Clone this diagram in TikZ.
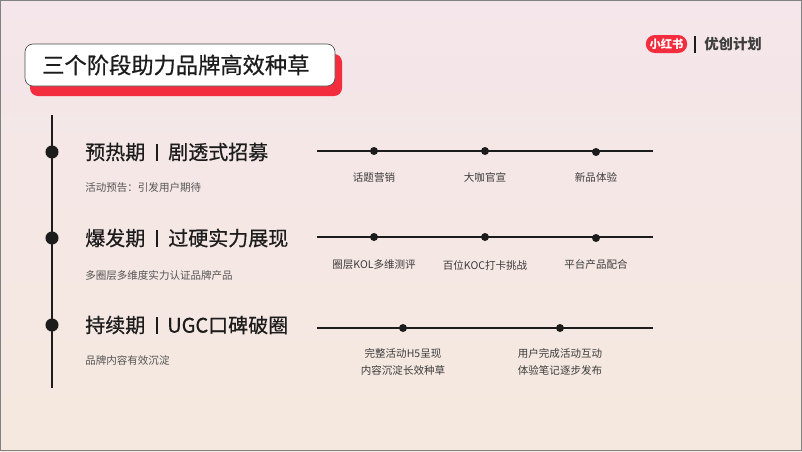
\documentclass[tikz,border=0pt]{standalone}
\usepackage{fontspec}
\setmainfont{Noto Sans CJK SC}
\newfontfamily\cjk{Noto Sans CJK SC}
\newfontfamily\cjkmed[FakeBold=0.6]{Noto Sans CJK SC}
\usetikzlibrary{shapes.misc}
\definecolor{bgtop}{RGB}{244,230,234}
\definecolor{bgbot}{RGB}{245,232,222}
\definecolor{redx}{RGB}{243,44,62}
\definecolor{ink}{RGB}{28,28,28}
\definecolor{subgray}{RGB}{85,85,85}
\definecolor{labgray}{RGB}{60,60,60}
\definecolor{frame}{RGB}{130,130,130}
\tikzset{
  heading/.style={anchor=west, inner sep=0pt, font=\cjkmed\fontsize{15}{18}\selectfont, text=ink},
  subline/.style={anchor=west, inner sep=0pt, font=\cjk\fontsize{7.9}{10}\selectfont, text=subgray},
  lab/.style={anchor=center, inner sep=0pt, font=\cjk\fontsize{7.9}{10}\selectfont, text=labgray, align=center},
  bigdot/.style={circle, fill=ink, inner sep=0pt, minimum size=9.8pt},
  smalldot/.style={circle, fill=ink, inner sep=0pt, minimum size=6pt},
  tline/.style={draw=ink, line width=1.5pt},
  hline/.style={draw=ink, line width=1.1pt},
  sepbar/.style={draw=ink, line width=0.9pt}
}
\begin{document}
\begin{tikzpicture}[x=0.75pt,y=-0.75pt]
\useasboundingbox (0,0) rectangle (802,451);
% background
\shade[top color=bgtop, bottom color=bgbot] (0,0) rectangle (802,451);
\draw[frame, line width=0.8pt] (0.5,0.5) rectangle (801.5,450.5);
% title box
\fill[redx, rounded corners=6pt] (30,54) rectangle (342,96);
\draw[fill=white, draw=black!70, line width=0.5pt, rounded corners=6pt] (25,44) rectangle (335,86);
\node[anchor=west, inner sep=0pt, font=\cjkmed\fontsize{16.7}{20}\selectfont, text=ink] (title) at (42,65) {三个阶段助力品牌高效种草};
% logo
\node[rounded rectangle, fill=redx, text=white, inner sep=0pt, minimum width=31pt, minimum height=13.5pt, font=\cjk\bfseries\fontsize{8.5}{9}\selectfont] (logo) at (666.5,44) {小红书};
\coordinate (lbt) at (695,36);
\coordinate (lbb) at (695,53);
\draw[draw=ink, line width=1.5pt] (lbt) -- (lbb);
\node[anchor=west, inner sep=0pt, font=\cjk\bfseries\fontsize{10.8}{12}\selectfont, text=ink!85] (brand) at (704,44) {优创计划};
% vertical timeline
\coordinate (vtop) at (52,115);
\coordinate (vbot) at (52,388);
\draw[tline] (vtop) -- (vbot);
\node[bigdot] (d1) at (52,152) {};
\node[bigdot] (d2) at (52,238) {};
\node[bigdot] (d3) at (52,325) {};
% stage 1
\node[heading] (s1a) at (85,152) {预热期};
\coordinate (b1t) at (157,144);
\coordinate (b1b) at (157,161);
\draw[sepbar] (b1t) -- (b1b);
\node[heading] (s1b) at (168,152) {剧透式招募};
\node[subline] (s1s) at (85,188) {活动预告：引发用户期待};
% stage 2
\node[heading] (s2a) at (85,238) {爆发期};
\coordinate (b2t) at (157,230);
\coordinate (b2b) at (157,247);
\draw[sepbar] (b2t) -- (b2b);
\node[heading] (s2b) at (168,238) {过硬实力展现};
\node[subline] (s2s) at (85,275) {多圈层多维度实力认证品牌产品};
% stage 3
\node[heading] (s3a) at (85,325) {持续期};
\coordinate (b3t) at (157,317);
\coordinate (b3b) at (157,334);
\draw[sepbar] (b3t) -- (b3b);
\node[heading] (s3b) at (167,325) {UGC口碑破圈};
\node[subline] (s3s) at (85,360) {品牌内容有效沉淀};
% row 1
\coordinate (h1s) at (317,151);
\coordinate (h1e) at (653,151);
\draw[hline] (h1s) -- (h1e);
\node[smalldot] (r1a) at (374,151) {};
\node[smalldot] (r1b) at (485,151) {};
\node[smalldot] (r1c) at (596,152) {};
\node[lab] (l1a) at (374,177) {话题营销};
\node[lab] (l1b) at (485,177) {大咖官宣};
\node[lab] (l1c) at (596,177) {新品体验};
% row 2
\coordinate (h2s) at (317,237);
\coordinate (h2e) at (653,237);
\draw[hline] (h2s) -- (h2e);
\node[smalldot] (r2a) at (374,237) {};
\node[smalldot] (r2b) at (485,237) {};
\node[smalldot] (r2c) at (596,238) {};
\node[lab] (l2a) at (374,265) {圈层KOL多维测评};
\node[lab] (l2b) at (485,265) {百位KOC打卡挑战};
\node[lab] (l2c) at (596,265) {平台产品配合};
% row 3
\coordinate (h3s) at (317,328);
\coordinate (h3e) at (653,328);
\draw[hline] (h3s) -- (h3e);
\node[smalldot] (r3a) at (403,328) {};
\node[smalldot] (r3b) at (560,328) {};
\node[lab] (l3a) at (403,362) {完整活动H5呈现\\[2.5pt]内容沉淀长效种草};
\node[lab] (l3b) at (560,362) {用户完成活动互动\\[2.5pt]体验笔记逐步发布};
\end{tikzpicture}
\end{document}
